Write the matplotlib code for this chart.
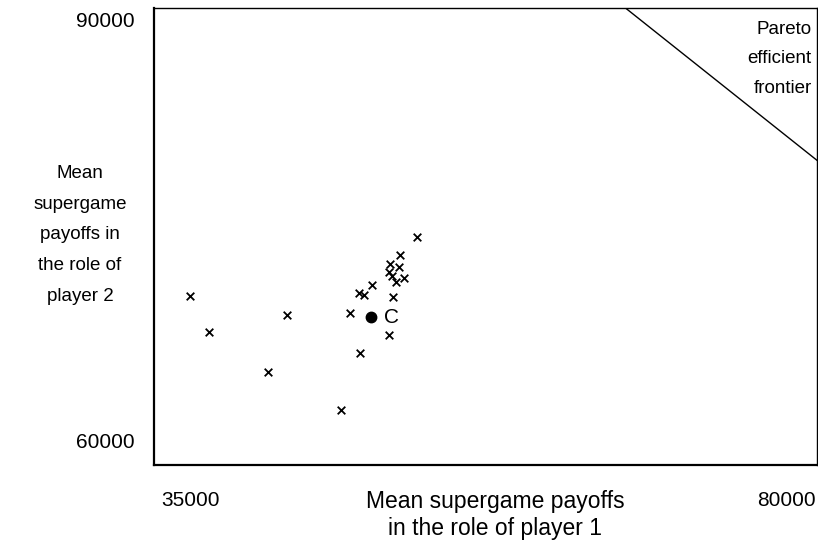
import matplotlib
matplotlib.use("Agg")
import matplotlib.pyplot as plt

plt.rcParams['font.family'] = ['Liberation Sans', 'DejaVu Sans']

# Mean supergame payoffs of each subject: (role of player 1, role of player 2)
payoff_p1 = [37440, 38750, 44010, 42740, 47720, 48280, 49000, 48910, 49250,
             49790, 51210, 50920, 52870, 51710, 51040, 51620, 50940, 51400,
             52000, 51130]
payoff_p2 = [71090, 68750, 69840, 66120, 63600, 69990, 67370, 71270, 71160,
             71810, 71040, 68530, 74980, 73780, 73190, 72970, 72690, 72030,
             72250, 72400]

# Outcome marked C
c_point = (49750, 69690)

# Pareto efficient frontier (segment visible in the window)
frontier_x = [67000, 80000]
frontier_y = [90000, 80000]

x_limits = (35000, 80000)
y_limits = (60000, 90000)

W, H = 818, 547
fig = plt.figure(figsize=(W / 100, H / 100), dpi=100)
ax = fig.add_axes([154 / W, (H - 465) / H, (817 - 154) / W, (465 - 8) / H])

ax.scatter(payoff_p1, payoff_p2, marker='x', s=30, color='black',
           linewidths=1.3, zorder=3)
ax.plot([c_point[0]], [c_point[1]], 'o', color='black', markersize=7.5, zorder=3)
ax.annotate('C', xy=c_point, xytext=(20, 0), textcoords='offset pixels',
            ha='center', va='center', fontsize=15)

ax.plot(frontier_x, frontier_y, color='black', linewidth=1.0)
ax.text(0.992, 0.972, 'Pareto\nefficient\nfrontier', transform=ax.transAxes,
        ha='right', va='top', fontsize=13.5, linespacing=1.97)

ax.set_xlim(*x_limits)
ax.set_ylim(*y_limits)
ax.set_xticks([])
ax.set_yticks([])
for name, s in ax.spines.items():
    s.set_linewidth(1.6 if name in ('left', 'bottom') else 1.0)
    s.set_color('black')

# Axis end values
ax.annotate(f'{y_limits[1]}', xy=(0, y_limits[1]), xycoords=('axes fraction', 'data'),
            xytext=(-19, -14), textcoords='offset pixels', ha='right', va='center',
            fontsize=15)
ax.annotate(f'{y_limits[0]}', xy=(0, y_limits[0]), xycoords=('axes fraction', 'data'),
            xytext=(-19, 22), textcoords='offset pixels', ha='right', va='center',
            fontsize=15)
ax.annotate(f'{x_limits[0]}', xy=(x_limits[0], 0), xycoords=('data', 'axes fraction'),
            xytext=(36, -36), textcoords='offset pixels', ha='center', va='center',
            fontsize=15)
ax.annotate(f'{x_limits[1]}', xy=(x_limits[1], 0), xycoords=('data', 'axes fraction'),
            xytext=(-1, -36), textcoords='offset pixels', ha='right', va='center',
            fontsize=15)

fig.text(80 / W, 1 - 235 / H, 'Mean\nsupergame\npayoffs in\nthe role of\nplayer 2',
         ha='center', va='center', multialignment='center', fontsize=13.5,
         linespacing=2.05)
fig.text(495 / W, 1 - 515 / H, 'Mean supergame payoffs\nin the role of player 1',
         ha='center', va='center', multialignment='center', fontsize=16.5,
         linespacing=1.27)

fig.savefig('out.png', dpi=100)
